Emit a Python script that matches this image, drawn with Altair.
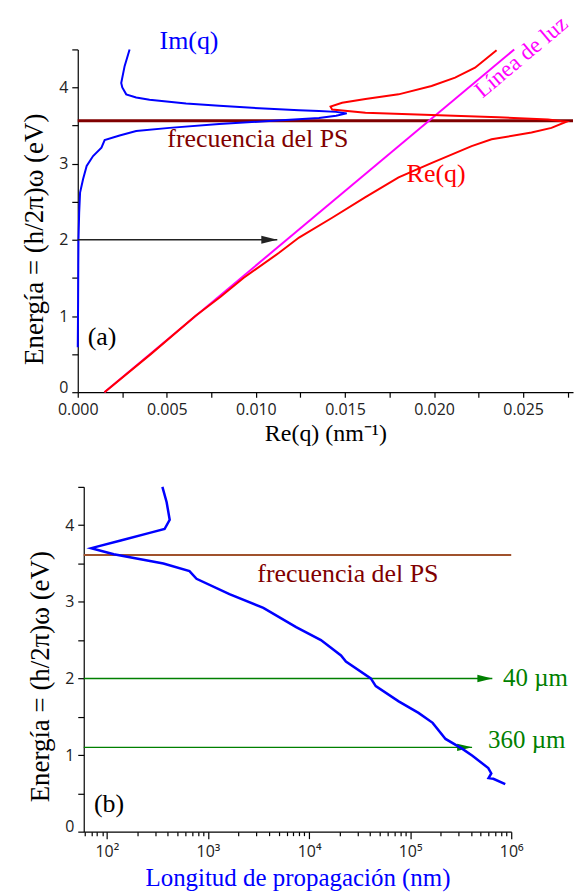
import altair as alt
import pandas as pd

# ---------------- Panel (a) data ----------------
im_q = [0.0, 0.00002, 0.00003, 0.00004, 0.00008, 0.00013, 0.0003, 0.0005, 0.00086, 0.00133,
        0.00151, 0.00235, 0.00328, 0.00515, 0.00794, 0.01074, 0.01354, 0.0145, 0.0151, 0.0145,
        0.01354, 0.01242, 0.01074, 0.00794, 0.00608, 0.00403, 0.00328, 0.00272, 0.0025, 0.00244,
        0.00263, 0.00291]
im_E = [0.59, 1.2, 1.66, 2.0, 2.36, 2.62, 2.80, 2.97, 3.10, 3.21,
        3.31, 3.37, 3.43, 3.47, 3.52, 3.56, 3.60, 3.63, 3.66, 3.68,
        3.69, 3.70, 3.72, 3.76, 3.79, 3.84, 3.87, 3.91, 4.0, 4.06,
        4.28, 4.5]

re_q = [0.0015, 0.0041, 0.0066, 0.0080, 0.0093, 0.0113, 0.01242, 0.01428, 0.01615, 0.01801,
        0.01988, 0.02211, 0.02323, 0.02547, 0.02659, 0.02743, 0.0264, 0.02361, 0.01986, 0.01615,
        0.01428, 0.01419, 0.01484, 0.01615, 0.01801, 0.01986, 0.02118, 0.0223, 0.02351]
re_E = [0.0, 0.5, 1.0, 1.25, 1.5, 1.83, 2.03, 2.29, 2.56, 2.82,
        3.01, 3.23, 3.32, 3.41, 3.47, 3.55, 3.58, 3.61, 3.64, 3.67,
        3.71, 3.75, 3.80, 3.85, 3.91, 4.02, 4.13, 4.26, 4.49]

light_q = [0.0015, 0.0245]
light_E = [0.0, 4.5]

ps_E_a = 3.565
arrow_a_E = 2.0
arrow_a_start = 0.0
arrow_a_end = 0.0112

# ---------------- Panel (b) data ----------------
lp_nm = [354, 390, 418, 372, 265, 137, 70, 117, 362, 656,
         770, 1630, 3530, 7450, 13100, 20700, 23150, 40800, 45700, 77000,
         121000, 167000, 224000, 329000, 413000, 593000, 635000, 597000, 665000, 873000]
lp_E = [4.5, 4.3, 4.07, 3.95, 3.9, 3.8, 3.7, 3.62, 3.5, 3.4,
        3.3, 3.1, 2.92, 2.67, 2.5, 2.3, 2.22, 2.0, 1.9, 1.7,
        1.55, 1.42, 1.21, 1.08, 0.99, 0.83, 0.76, 0.70, 0.69, 0.62]

ps_E_b = 3.61
green_E = [2.0, 1.1]
green_end = [650000, 410000]
green_labels = ["40 µm", "360 µm"]

# ---------------- styling ----------------
SERIF = "Liberation Serif"
SANS = "Open Sans"
XMAX_A = 0.0278
L_MIN, L_MAX = 59, 1e6
ARROW = "M-2,-0.5L0,0L-2,0.5Z"

# ---------------- Panel (a) ----------------
xa_ticks = [round(i * 0.0025, 4) for i in range(12)]
y_ticks = [i * 0.5 for i in range(10)]

def xa(field="q"):
    return alt.X(field, type="quantitative",
                 scale=alt.Scale(domain=[0, XMAX_A], nice=False, zero=False),
                 axis=alt.Axis(values=xa_ticks, title="Re(q) (nm⁻¹)",
                               labelExpr="round(datum.value*10000) % 50 == 0 ? format(datum.value, '.3f') : ''",
                               labelFlush=False, labelOverlap=False,
                               tickSize=5, labelPadding=4, titlePadding=4,
                               titleFontSize=24, titleColor="black"))

def ya():
    return alt.Y("E", type="quantitative",
                 scale=alt.Scale(domain=[0, 4.5], nice=False),
                 axis=alt.Axis(values=y_ticks, title="Energía = (h/2π)ω (eV)",
                               labelExpr="datum.value % 1 == 0 ? format(datum.value, 'd') : ''",
                               labelFlush=False, labelOverlap=False,
                               labelBaseline={"condition": {"test": "datum.value == 0", "value": "alphabetic"}, "value": "middle"},
                               tickSize=6, labelPadding=4, titlePadding=10, titleY=190,
                               titleFontSize=27, titleColor="black"))

im_df = pd.DataFrame({"q": im_q, "E": im_E, "o": range(len(im_q))})
re_df = pd.DataFrame({"q": re_q, "E": re_E, "o": range(len(re_q))})
light_df = pd.DataFrame({"q": light_q, "E": light_E})
ps_a_df = pd.DataFrame({"q": [0.0], "q2": [XMAX_A], "E": [ps_E_a]})
arr_a_df = pd.DataFrame({"q": [arrow_a_start], "q2": [arrow_a_end], "E": [arrow_a_E]})
arr_a_head = pd.DataFrame({"q": [arrow_a_end], "E": [arrow_a_E]})

txt_a = pd.DataFrame({
    "q": [0.00459, 0.00503, 0.01846, 0.00056],
    "E": [4.61, 3.32, 2.86, 0.73],
    "label": ["Im(q)", "frecuencia del PS", "Re(q)", "(a)"],
    "c": ["#0000ff", "#800000", "#ff0000", "#000000"],
})
luz_df = pd.DataFrame({"q": [0.0249], "E": [4.4], "label": ["Línea de luz"]})

ps_a = alt.Chart(ps_a_df).mark_rule(color="#800000", strokeWidth=3).encode(x=xa(), x2="q2", y=ya())
light = alt.Chart(light_df).mark_line(color="#ff00ff", strokeWidth=2).encode(x=xa(), y=ya())
re_line = alt.Chart(re_df).mark_line(color="#ff0000", strokeWidth=2).encode(x=xa(), y=ya(), order="o")
im_line = alt.Chart(im_df).mark_line(color="#0000ff", strokeWidth=2).encode(x=xa(), y=ya(), order="o")
arr_a = alt.Chart(arr_a_df).mark_rule(color="#222222", strokeWidth=1.5).encode(x=xa(), x2="q2", y=ya())
arr_a_h = alt.Chart(arr_a_head).mark_point(shape=ARROW, filled=True, size=256, color="#222222", opacity=1).encode(x=xa(), y=ya())
t_a = alt.Chart(txt_a).mark_text(font=SERIF, fontSize=26, align="left", baseline="middle").encode(
    x=xa(), y=ya(), text="label", color=alt.Color("c", scale=None))
luz = alt.Chart(luz_df).mark_text(font=SERIF, fontSize=23, angle=320, align="center", baseline="middle",
                                  color="#ff00ff").encode(x=xa(), y=ya(), text="label")

top_layer = alt.layer(ps_a, light, re_line, im_line, arr_a, arr_a_h, t_a, luz).properties(width=497, height=344)

# ---------------- Panel (b) ----------------
xb_ticks = []
for k in range(1, 6):
    for m in range(1, 10):
        v = m * 10 ** k
        if L_MIN <= v <= L_MAX:
            xb_ticks.append(v)
xb_ticks.append(1000000)
sup_expr = ("datum.value == 100 ? '10²' : datum.value == 1000 ? '10³' : datum.value == 10000 ? '10⁴' : "
            "datum.value == 100000 ? '10⁵' : datum.value == 1000000 ? '10⁶' : ''")

def xb(field="L"):
    return alt.X(field, type="quantitative",
                 scale=alt.Scale(type="log", domain=[L_MIN, L_MAX], nice=False),
                 axis=alt.Axis(values=xb_ticks, title="Longitud de propagación (nm)",
                               labelExpr=sup_expr, labelFlush=False, labelOverlap=False,
                               tickSize={"condition": {"test": "indexof([100,1000,10000,100000,1000000], datum.value) >= 0", "value": 7}, "value": 4},
                               labelPadding=5, titlePadding=6,
                               titleFontSize=25, titleColor="#0000ff"))

lp_df = pd.DataFrame({"L": lp_nm, "E": lp_E, "o": range(len(lp_nm))})
ps_b_df = pd.DataFrame({"L": [L_MIN], "L2": [L_MAX], "E": [ps_E_b]})
gr_df = pd.DataFrame({"L": [L_MIN] * 2, "L2": green_end, "E": green_E})
gr_head = pd.DataFrame({"L": green_end, "E": green_E})
gr_txt = pd.DataFrame({"L": [830000, 590000], "E": [2.0, 1.2], "label": green_labels})
txt_b = pd.DataFrame({"L": [3080, 74.5], "E": [3.36, 0.36],
                      "label": ["frecuencia del PS", "(b)"], "c": ["#800000", "#000000"]})

ps_b = alt.Chart(ps_b_df).mark_rule(color="#a0522d", strokeWidth=2).encode(x=xb(), x2="L2", y=ya())
gr = alt.Chart(gr_df).mark_rule(color="#008000", strokeWidth=1.5).encode(x=xb(), x2="L2", y=ya())
gr_h = alt.Chart(gr_head).mark_point(shape=ARROW, filled=True, size=225, color="#008000", opacity=1).encode(x=xb(), y=ya())
lp_line = alt.Chart(lp_df).mark_line(color="#0000ff", strokeWidth=2.5).encode(x=xb(), y=ya(), order="o")
gr_t = alt.Chart(gr_txt).mark_text(font=SERIF, fontSize=25, align="left", baseline="middle", color="#008000").encode(
    x=xb(), y=ya(), text="label")
t_b = alt.Chart(txt_b).mark_text(font=SERIF, fontSize=26, align="left", baseline="middle").encode(
    x=xb(), y=ya(), text="label", color=alt.Color("c", scale=None))

bottom_layer = alt.layer(ps_b, gr, gr_h, lp_line, gr_t, t_b).properties(width=429, height=346)

# invisible spacers that set each panel's left offset
def spacer(w):
    return alt.Chart(pd.DataFrame({"s": [0]})).mark_point(opacity=0).encode(
        x=alt.X("s:Q", axis=None), y=alt.Y("s:Q", axis=None)).properties(width=w, height=10)

top = alt.hconcat(spacer(1), top_layer, spacing=0)
bottom = alt.hconcat(spacer(10), bottom_layer, spacing=0)

chart = alt.vconcat(top, bottom, spacing=34).properties(
    padding={"left": 5, "top": 2, "right": 0, "bottom": 0}
).configure_view(stroke=None).configure_axis(
    grid=False, domainColor="black", tickColor="black", labelColor="#222222",
    labelFont=SANS, labelFontSize=16, titleFont=SERIF, titleFontWeight="normal",
    domainWidth=1.2, tickWidth=1.2
)

chart.save("out.html", embed_options={"renderer": "svg", "actions": False})
